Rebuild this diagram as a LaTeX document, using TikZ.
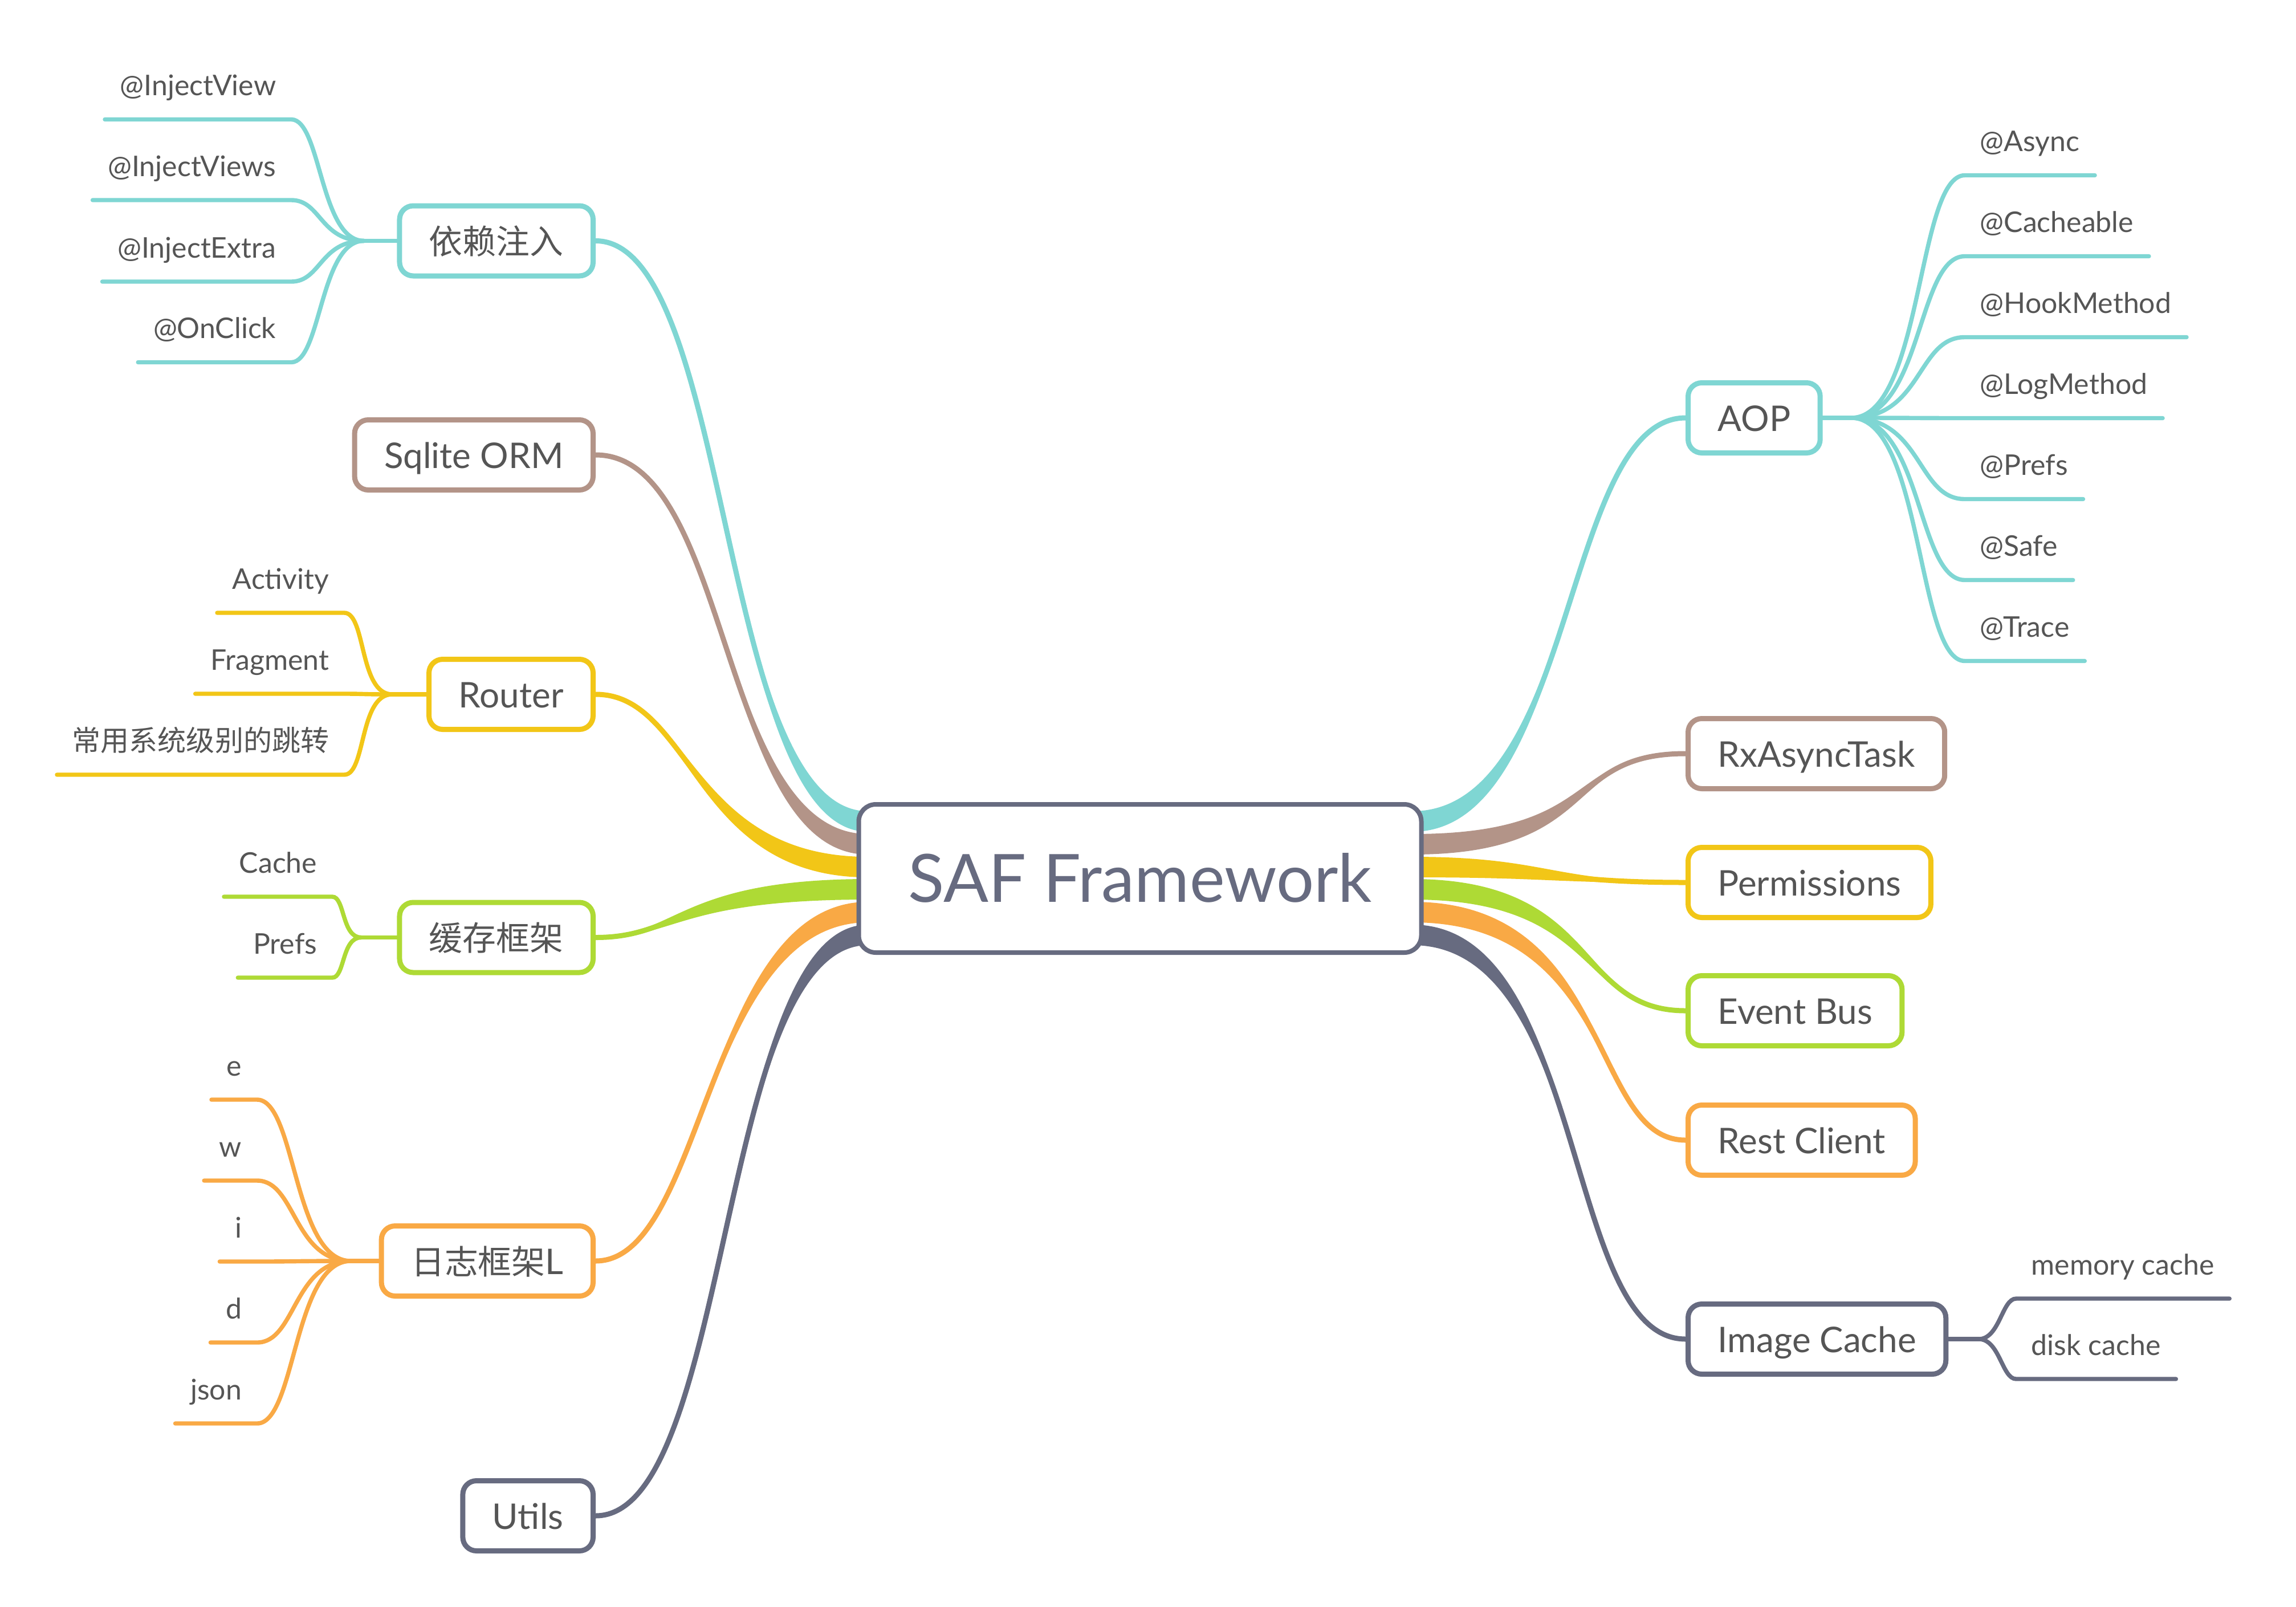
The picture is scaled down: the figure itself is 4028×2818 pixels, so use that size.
\documentclass[tikz,border=0pt]{standalone}
\usepackage{fontspec}
\setmainfont{Lato}
\newfontfamily\cjk{Noto Sans CJK SC}[Scale=0.92]
\usepackage{tikz}
\usetikzlibrary{calc,backgrounds}
\definecolor{mmteal}{RGB}{127, 214, 211}
\definecolor{mmbrown}{RGB}{179, 148, 136}
\definecolor{mmyellow}{RGB}{242, 198, 23}
\definecolor{mmgreen}{RGB}{174, 218, 53}
\definecolor{mmorange}{RGB}{249, 169, 69}
\definecolor{mmslate}{RGB}{103, 107, 128}
\definecolor{mmtext}{RGB}{85, 85, 85}

% tapered main branch: colour, start, end, start handle, end handle
\newcommand{\mainbranch}[5]{%
  \draw[#1, line width=2.25pt] (#2) .. controls +(#4,0) and +(#5,0) .. (#3);
  \fill[#1] ($(#2)+(0,-18)$) .. controls +(#4,0) and +(#5,0) .. ($(#3)+(0,-1)$)
    -- ($(#3)+(0,1)$) .. controls +(#5,0) and +(#4,0) .. ($(#2)+(0,18)$) -- cycle;}

\begin{document}
\begin{tikzpicture}[x=0.25pt, y=-0.25pt,
    central/.style={draw=mmslate, line width=2pt, fill=white, rounded corners=7.5pt,
      minimum width=246.75pt, minimum height=65pt, text height=20.5pt, text depth=0pt,
      font=\fontsize{29.2}{31}\selectfont, text=mmslate},
    topic/.style={draw=#1, line width=2.25pt, fill=white, rounded corners=6pt,
      minimum height=30.75pt, inner xsep=13pt, text height=11.5pt, text depth=0pt,
      font=\fontsize{15.5}{18}\selectfont, text=mmtext},
    leafl/.style={anchor=south east, inner xsep=6.5pt, inner ysep=10.25pt, text depth=0pt,
      font=\fontsize{12.5}{14}\selectfont, text=mmtext},
    leafr/.style={leafl, anchor=south west},
    twig/.style={draw=#1, line width=1.85pt, line cap=round}]
    \useasboundingbox (0,0) rectangle (4028,2818);

    % central topic
    \node[central] (saf) at (2000,1541) {SAF Framework};

    % left topics
    \node[topic=mmteal, anchor=east] (dep) at (1045,422.5) {{\cjk\fontsize{16}{18}\selectfont 依赖注入}};
    \node[topic=mmbrown, anchor=east] (orm) at (1045,798) {Sqlite ORM};
    \node[topic=mmyellow, anchor=east] (router) at (1045,1218) {Router};
    \node[topic=mmgreen, anchor=east] (cache) at (1045,1644.5) {{\cjk\fontsize{16}{18}\selectfont 缓存框架}};
    \node[topic=mmorange, anchor=east] (log) at (1045,2212) {{\cjk\fontsize{16}{18}\selectfont 日志框架}L};
    \node[topic=mmslate, anchor=east] (utils) at (1045,2659) {Utils};

    % right topics
    \node[topic=mmteal, anchor=west] (aop) at (2957,733) {AOP};
    \node[topic=mmbrown, anchor=west] (rx) at (2957,1322) {RxAsyncTask};
    \node[topic=mmyellow, anchor=west] (perm) at (2957,1548) {Permissions};
    \node[topic=mmgreen, anchor=west] (bus) at (2957,1773) {Event Bus};
    \node[topic=mmorange, anchor=west] (rest) at (2957,2000) {Rest Client};
    \node[topic=mmslate, anchor=west] (img) at (2957,2349) {Image Cache};

    % injection leaves
    \coordinate (depj) at ($(dep.west)+(-58,0)$);
    \node[leafl] (inview) at (511,209.5) {@InjectView};
    \node[leafl] (inviews) at (511,351) {@InjectViews};
    \node[leafl] (inextra) at (511,494) {@InjectExtra};
    \node[leafl] (onclick) at (511,635.5) {@OnClick};
    \draw[twig=mmteal] (dep.west) -- (depj);
    \draw[twig=mmteal] (depj) .. controls +(-77,0) and +(52,0) .. (inview.south east) -- (inview.south west);
    \draw[twig=mmteal] (depj) .. controls +(-77,0) and +(52,0) .. (inviews.south east) -- (inviews.south west);
    \draw[twig=mmteal] (depj) .. controls +(-77,0) and +(52,0) .. (inextra.south east) -- (inextra.south west);
    \draw[twig=mmteal] (depj) .. controls +(-77,0) and +(52,0) .. (onclick.south east) -- (onclick.south west);

    % router leaves
    \coordinate (routerj) at ($(router.west)+(-60,0)$);
    \node[leafl] (activity) at (604,1075) {Activity};
    \node[leafl] (fragment) at (604,1217) {Fragment};
    \node[leafl, font=\fontsize{13.6}{15}\selectfont] (sysjump) at (604,1359) {\cjk 常用系统级别的跳转};
    \draw[twig=mmyellow] (router.west) -- (routerj);
    \draw[twig=mmyellow] (routerj) .. controls +(-58,0) and +(38,0) .. (activity.south east) -- (activity.south west);
    \draw[twig=mmyellow] (routerj) .. controls +(-58,0) and +(38,0) .. (fragment.south east) -- (fragment.south west);
    \draw[twig=mmyellow] (routerj) .. controls +(-58,0) and +(38,0) .. (sysjump.south east) -- (sysjump.south west);

    % cache leaves
    \coordinate (cachej) at ($(cache.west)+(-63,0)$);
    \node[leafl] (cachec) at (583,1573) {Cache};
    \node[leafl] (cachep) at (583,1715) {Prefs};
    \draw[twig=mmgreen] (cache.west) -- (cachej);
    \draw[twig=mmgreen] (cachej) .. controls +(-34,0) and +(22,0) .. (cachec.south east) -- (cachec.south west);
    \draw[twig=mmgreen] (cachej) .. controls +(-34,0) and +(22,0) .. (cachep.south east) -- (cachep.south west);

    % log leaves
    \coordinate (logj) at ($(log.west)+(-49,0)$);
    \node[leafl] (loge) at (451,1929) {e};
    \node[leafl] (logw) at (451,2071) {w};
    \node[leafl] (logi) at (451,2213) {i};
    \node[leafl] (logd) at (451,2355) {d};
    \node[leafl] (logjson) at (451,2497) {json};
    \draw[twig=mmorange] (log.west) -- (logj);
    \draw[twig=mmorange] (logj) .. controls +(-101,0) and +(68,0) .. (loge.south east) -- (loge.south west);
    \draw[twig=mmorange] (logj) .. controls +(-101,0) and +(68,0) .. (logw.south east) -- (logw.south west);
    \draw[twig=mmorange] (logj) .. controls +(-101,0) and +(68,0) .. (logi.south east) -- (logi.south west);
    \draw[twig=mmorange] (logj) .. controls +(-101,0) and +(68,0) .. (logd.south east) -- (logd.south west);
    \draw[twig=mmorange] (logj) .. controls +(-101,0) and +(68,0) .. (logjson.south east) -- (logjson.south west);

    % aop leaves
    \coordinate (aopj) at ($(aop.east)+(50,0)$);
    \node[leafr] (async) at (3447,307.5) {@Async};
    \node[leafr] (cacheable) at (3447,449.5) {@Cacheable};
    \node[leafr] (hook) at (3447,591.5) {@HookMethod};
    \node[leafr] (logm) at (3447,733.5) {@LogMethod};
    \node[leafr] (prefs) at (3447,875.5) {@Prefs};
    \node[leafr] (safe) at (3447,1017.5) {@Safe};
    \node[leafr] (trace) at (3447,1159.5) {@Trace};
    \draw[twig=mmteal] (aop.east) -- (aopj);
    \draw[twig=mmteal] (aopj) .. controls +(125,0) and +(-84,0) .. (async.south west) -- (async.south east);
    \draw[twig=mmteal] (aopj) .. controls +(125,0) and +(-84,0) .. (cacheable.south west) -- (cacheable.south east);
    \draw[twig=mmteal] (aopj) .. controls +(125,0) and +(-84,0) .. (hook.south west) -- (hook.south east);
    \draw[twig=mmteal] (aopj) .. controls +(125,0) and +(-84,0) .. (logm.south west) -- (logm.south east);
    \draw[twig=mmteal] (aopj) .. controls +(125,0) and +(-84,0) .. (prefs.south west) -- (prefs.south east);
    \draw[twig=mmteal] (aopj) .. controls +(125,0) and +(-84,0) .. (safe.south west) -- (safe.south east);
    \draw[twig=mmteal] (aopj) .. controls +(125,0) and +(-84,0) .. (trace.south west) -- (trace.south east);

    % image cache leaves
    \coordinate (imgj) at ($(img.east)+(53,0)$);
    \node[leafr] (memory) at (3537,2278) {memory cache};
    \node[leafr] (disk) at (3537,2419) {disk cache};
    \draw[twig=mmslate] (img.east) -- (imgj);
    \draw[twig=mmslate] (imgj) .. controls +(37,0) and +(-25,0) .. (memory.south west) -- (memory.south east);
    \draw[twig=mmslate] (imgj) .. controls +(37,0) and +(-25,0) .. (disk.south west) -- (disk.south east);

    % main branches
    \begin{scope}[on background layer]
        \fill[white] (0,0) rectangle (4028,2818);
        \coordinate (lteal) at ($(saf.west)+(20,-100)$);
        \coordinate (lbrown) at ($(saf.west)+(20,-60)$);
        \coordinate (lyellow) at ($(saf.west)+(20,-20)$);
        \coordinate (lgreen) at ($(saf.west)+(20,19)$);
        \coordinate (lorange) at ($(saf.west)+(20,59)$);
        \coordinate (lslate) at ($(saf.west)+(20,99)$);
        \coordinate (rteal) at ($(saf.east)+(-20,-100)$);
        \coordinate (rbrown) at ($(saf.east)+(-20,-60)$);
        \coordinate (ryellow) at ($(saf.east)+(-20,-20)$);
        \coordinate (rgreen) at ($(saf.east)+(-20,19)$);
        \coordinate (rorange) at ($(saf.east)+(-20,59)$);
        \coordinate (rslate) at ($(saf.east)+(-20,99)$);
        \mainbranch{mmteal}{lteal}{dep.east}{-262}{239}
        \mainbranch{mmbrown}{lbrown}{orm.east}{-262}{239}
        \mainbranch{mmyellow}{lyellow}{router.east}{-310}{167}
        \mainbranch{mmgreen}{lgreen}{cache.east}{-334}{143}
        \mainbranch{mmorange}{lorange}{log.east}{-286}{191}
        \mainbranch{mmslate}{lslate}{utils.east}{-262}{239}
        \mainbranch{mmteal}{rteal}{aop.west}{286}{-215}
        \mainbranch{mmbrown}{rbrown}{rx.west}{334}{-215}
        \mainbranch{mmyellow}{ryellow}{perm.west}{239}{-239}
        \mainbranch{mmgreen}{rgreen}{bus.west}{334}{-191}
        \mainbranch{mmorange}{rorange}{rest.west}{358}{-167}
        \mainbranch{mmslate}{rslate}{img.west}{310}{-215}
    \end{scope}
\end{tikzpicture}
\end{document}
